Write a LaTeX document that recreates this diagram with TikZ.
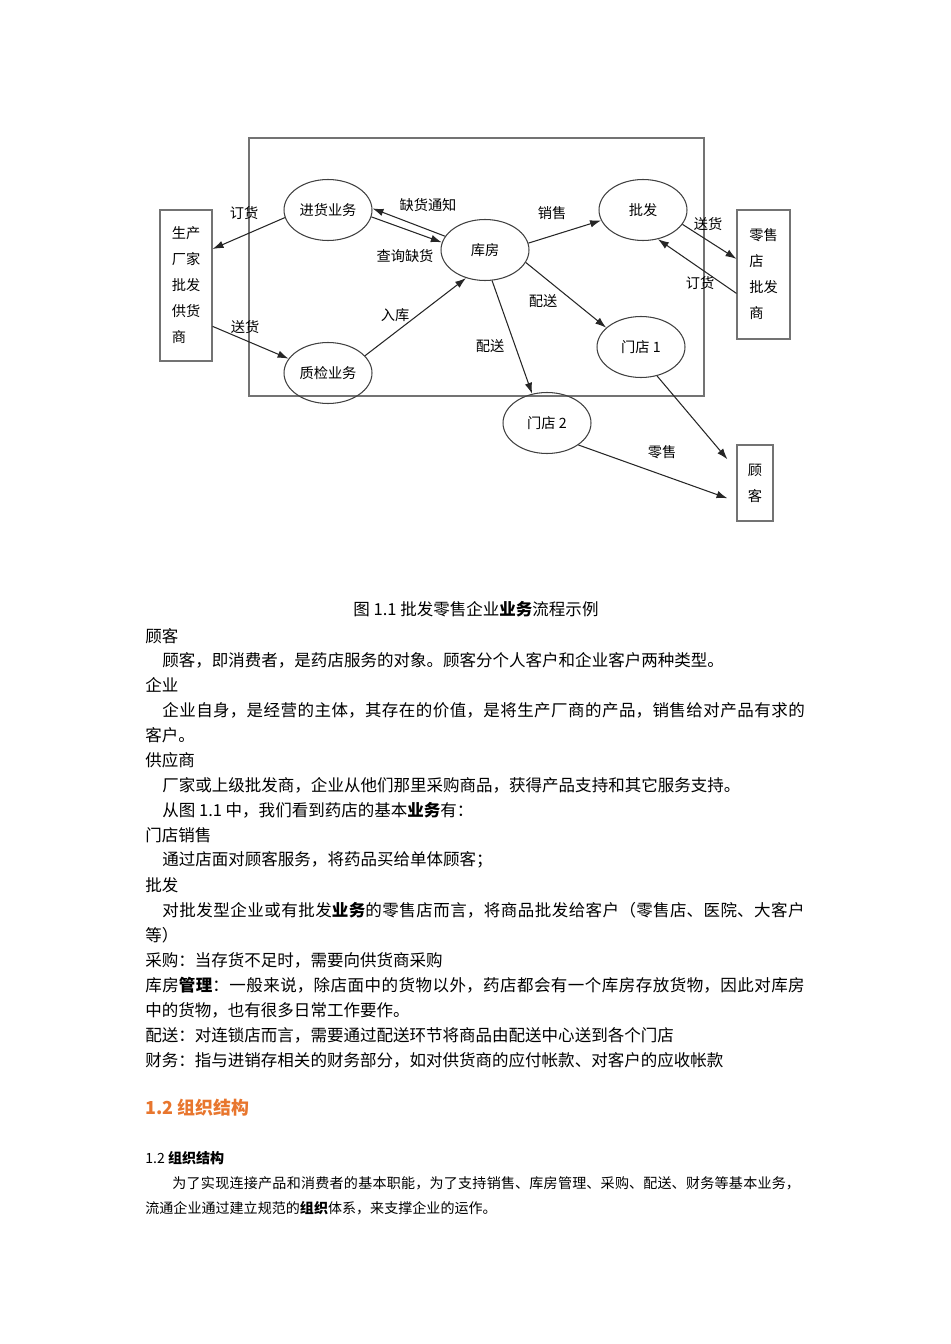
\documentclass[tikz,border=0pt]{standalone}
\usepackage{fontspec}
\setmainfont{Noto Sans CJK SC}
\usepackage{tikz}
\usetikzlibrary{shapes.geometric,arrows.meta}
\definecolor{headorange}{RGB}{232,118,46}
\newcommand\diagfont{\fontsize{8.1pt}{14.8pt}\selectfont}
\newcommand\bodyfont{\fontsize{9.4pt}{11pt}\selectfont}
\newcommand\smallfont{\fontsize{8pt}{10pt}\selectfont}
\newcommand\headfont{\fontsize{10.2pt}{12pt}\selectfont\bfseries}
\newcommand\fillline{\XeTeXlinebreaklocale "zh"\XeTeXlinebreakskip=0pt plus 1fil\parfillskip=0pt\relax}
\tikzstyle{proc} = [ellipse, draw=black!75, line width=0.6pt,
    minimum width=1.76cm, minimum height=1.22cm, font=\diagfont, inner sep=0pt]
\tikzstyle{ent} = [rectangle, draw=black!55, line width=0.6pt,
    font=\diagfont, align=left, inner sep=0pt]
\tikzstyle{frame} = [draw=black!55, line width=0.6pt]
\tikzstyle{line} = [draw=black!85, line width=0.6pt, -{Latex[length=2.2mm,width=1.5mm]}]
\tikzstyle{lbl} = [font=\diagfont, inner sep=0pt]
\tikzstyle{txt} = [anchor=west, font=\bodyfont, inner sep=0pt]
\tikzstyle{fulltxt} = [txt, align=justify]

\begin{document}
\begin{tikzpicture}[x=0.02cm, y=-0.02cm]
    \useasboundingbox (0,0) rectangle (950,1344);
    % Frame
    \draw [frame] (249,138) rectangle (704,396);
    % Place nodes
    \node [proc] (jh) at (328,210) {进货业务};
    \node [proc] (zj) at (328,373) {质检业务};
    \node [proc] (kf) at (485,250) {库房};
    \node [proc] (pf) at (643,210) {批发};
    \node [proc] (md1) at (641,347) {门店 1};
    \node [proc] (md2) at (547,423) {门店 2};
    \node [ent, minimum width=1.04cm, minimum height=3.02cm] (gys) at (186,285.5)
        {生产\\厂家\\批发\\供货\\商};
    \node [ent, minimum width=1.06cm, minimum height=2.58cm] (lsd) at (763.5,274.5)
        {零售\\店\\批发\\商};
    \node [ent, minimum width=0.72cm, minimum height=1.52cm] (gk) at (755,483)
        {顾\\客};
    % Labels
    \node [lbl] (l-dh1) at (244,213) {订货};
    \node [lbl] (l-sh1) at (245,327) {送货};
    \node [lbl] (l-rk) at (395,315) {入库};
    \node [lbl] (l-qh) at (428,205) {缺货通知};
    \node [lbl] (l-cx) at (405,256) {查询缺货};
    \node [lbl] (l-xs) at (552,213) {销售};
    \node [lbl] (l-ps1) at (543,301) {配送};
    \node [lbl] (l-ps2) at (490,346) {配送};
    \node [lbl] (l-sh2) at (708,224) {送货};
    \node [lbl] (l-dh2) at (700,283) {订货};
    \node [lbl] (l-ls) at (662,452) {零售};
    % Draw edges
    \path [line] (jh.190) -- (gys.54);
    \path [line] (gys.-57) -- (zj.160);
    \path [line] (zj.25) -- (kf.236);
    \path [line] (kf.161) -- (jh.2);
    \path [line] (jh.-9) -- (kf.170);
    \path [line] (kf.9) -- (pf.-166);
    \path [line] (kf.-17) -- (md1.151);
    \path [line] (kf.-77) -- (md2.117);
    \path [line] (pf.-20) -- (lsd.150);
    \path [line] (lsd.215) -- (pf.-63);
    \path [line, shorten >=0.28cm] (md1.-61) -- (gk.145);
    \path [line, shorten >=0.19cm] (md2.-35) -- (gk.225);
    % Text below
    \node [font=\bodyfont, inner sep=0pt] (cap) at (476,609) {图 1.1 批发零售企业\textbf{业务}流程示例};
    \node [txt] (t1) at (145,636) {顾客};
    \node [txt] (t2) at (162,660) {顾客，即消费者，是药店服务的对象。顾客分个人客户和企业客户两种类型。};
    \node [txt] (t3) at (145,685) {企业};
    \node [fulltxt, text width=12.86cm] (t4) at (162,710) {\fillline 企业自身，是经营的主体，其存在的价值，是将生产厂商的产品，销售给对产品有求的};
    \node [txt] (t5) at (145,735) {客户。};
    \node [txt] (t6) at (145,760) {供应商};
    \node [txt] (t7) at (162,785) {厂家或上级批发商，企业从他们那里采购商品，获得产品支持和其它服务支持。};
    \node [txt] (t8) at (162,810) {从图 1.1 中，我们看到药店的基本\textbf{业务}有：};
    \node [txt] (t9) at (145,835) {门店销售};
    \node [txt] (t10) at (162,860) {通过店面对顾客服务，将药品买给单体顾客；};
    \node [txt] (t11) at (145,885) {批发};
    \node [fulltxt, text width=12.86cm] (t12) at (162,910) {\fillline 对批发型企业或有批发\textbf{业务}的零售店而言，将商品批发给客户（零售店、医院、大客户};
    \node [txt] (t13) at (145,935) {等）};
    \node [txt] (t14) at (145,960) {采购：当存货不足时，需要向供货商采购};
    \node [fulltxt, text width=13.2cm] (t15) at (145,985) {\fillline 库房\textbf{管理}：一般来说，除店面中的货物以外，药店都会有一个库房存放货物，因此对库房};
    \node [txt] (t16) at (145,1010) {中的货物，也有很多日常工作要作。};
    \node [txt] (t17) at (145,1035) {配送：对连锁店而言，需要通过配送环节将商品由配送中心送到各个门店};
    \node [txt] (t18) at (145,1060) {财务：指与进销存相关的财务部分，如对供货商的应付帐款、对客户的应收帐款};
    \node [txt, font=\headfont, text=headorange] (h1) at (145,1108) {1.2 组织结构};
    \node [txt, font=\smallfont] (h2) at (145,1158) {1.2 \textbf{组织结构}};
    \node [fulltxt, font=\smallfont, text width=12.56cm] (t19) at (172,1183) {\fillline 为了实现连接产品和消费者的基本职能，为了支持销售、库房管理、采购、配送、财务等基本业务，};
    \node [txt, font=\smallfont] (t20) at (145,1208) {流通企业通过建立规范的\textbf{组织}体系，来支撑企业的运作。};
\end{tikzpicture}
\end{document}
